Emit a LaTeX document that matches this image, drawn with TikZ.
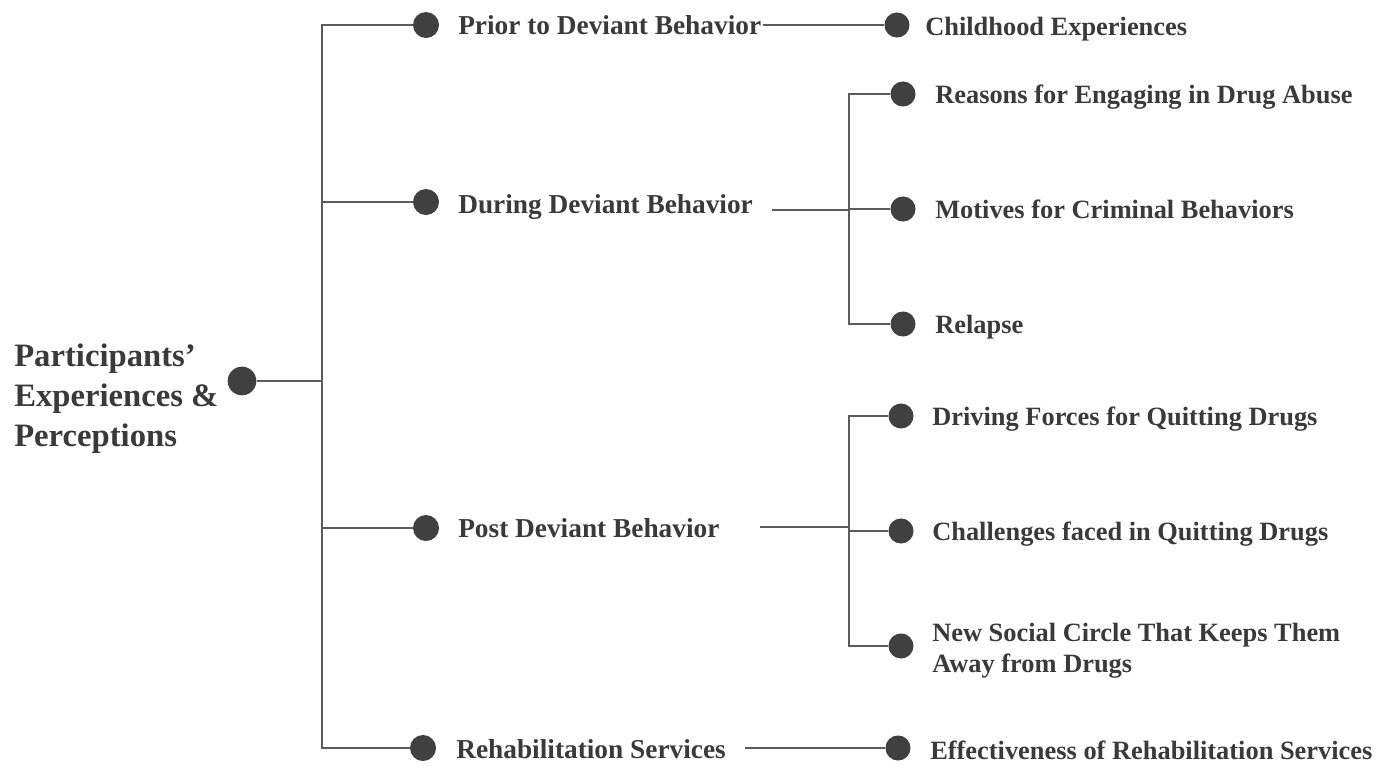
\documentclass[tikz,border=0pt]{standalone}
\usepackage{fontspec}
\setmainfont{Liberation Serif}

\definecolor{txtgray}{HTML}{3A3A3A}
\definecolor{dotgray}{HTML}{404040}
\definecolor{linegray}{HTML}{5C5C5C}

\begin{document}
\begin{tikzpicture}[x=0.75pt, y=-0.75pt,
    dot/.style={circle, fill=dotgray, inner sep=0pt, minimum size=19.5pt},
    subdot/.style={dot, minimum size=18.8pt},
    topic/.style={anchor=base west, inner sep=0pt, text=txtgray,
        font=\bfseries\fontsize{20.5}{24}\selectfont},
    subtopic/.style={anchor=base west, inner sep=0pt, text=txtgray,
        font=\bfseries\fontsize{19.8}{23.3}\selectfont},
    conn/.style={draw=linegray, line width=1.4pt}]

    % Frame of the picture (pixel units, y pointing down)
    \useasboundingbox (0,0) rectangle (1384,765);

    % Root: participants' experiences
    \node[anchor=west, align=left, inner sep=0pt, text=txtgray,
        font=\bfseries\fontsize{24.5}{30}\selectfont] (rtext) at (14,399)
        {Participants'\\Experiences \&\\Perceptions};
    \node[dot, minimum size=21.5pt] (root) at (242,381) {};

    % First level dots and labels
    \node[dot] (d1) at (426,25) {};
    \node[dot] (d2) at (426,202) {};
    \node[dot] (d3) at (426,528) {};
    \node[dot] (d4) at (423,748) {};

    \node[topic] (t1) at (458,34) {Prior to Deviant Behavior};
    \node[topic] (t2) at (458,213) {During Deviant Behavior};
    \node[topic] (t3) at (458,537) {Post Deviant Behavior};
    \node[topic] (t4) at (456,758) {Rehabilitation Services};

    % Second level dots and labels
    \node[subdot] (e1) at (897,25) {};
    \node[subdot] (e21) at (903,94) {};
    \node[subdot] (e22) at (903,209) {};
    \node[subdot] (e23) at (903,324) {};
    \node[subdot] (e31) at (901,416) {};
    \node[subdot] (e32) at (901,531) {};
    \node[subdot] (e33) at (901,646) {};
    \node[subdot] (e4) at (898,748) {};

    \node[subtopic] (u1) at (925,35) {Childhood Experiences};
    \node[subtopic] (u21) at (935,103) {Reasons for Engaging in Drug Abuse};
    \node[subtopic] (u22) at (935,218) {Motives for Criminal Behaviors};
    \node[subtopic] (u23) at (935,333) {Relapse};
    \node[subtopic] (u31) at (932,425) {Driving Forces for Quitting Drugs};
    \node[subtopic] (u32) at (932,540) {Challenges faced in Quitting Drugs};
    \node[subtopic] (u33) at (932,641) {New Social Circle That Keeps Them};
    \node[subtopic] (u34) at (932,672) {Away from Drugs};
    \node[subtopic] (u4) at (930,759) {Effectiveness of Rehabilitation Services};

    % Trunk from the root to the first level
    \coordinate (trunk) at (322,381);
    \draw[conn] (root) -- (trunk);
    \foreach \n in {d1,d2,d3,d4}
        \draw[conn] (trunk) |- (\n);

    % Branches to the second level
    \coordinate (s1) at (763,25);
    \coordinate (s2) at (772,210);
    \coordinate (b2) at (849,210);
    \coordinate (s3) at (760,527);
    \coordinate (b3) at (849,527);
    \coordinate (s4) at (745,748);

    \draw[conn] (s1) -- (e1);
    \draw[conn] (s2) -- (b2);
    \foreach \n in {e21,e22,e23}
        \draw[conn] (b2) |- (\n);
    \draw[conn] (s3) -- (b3);
    \foreach \n in {e31,e32,e33}
        \draw[conn] (b3) |- (\n);
    \draw[conn] (s4) -- (e4);

\end{tikzpicture}
\end{document}
